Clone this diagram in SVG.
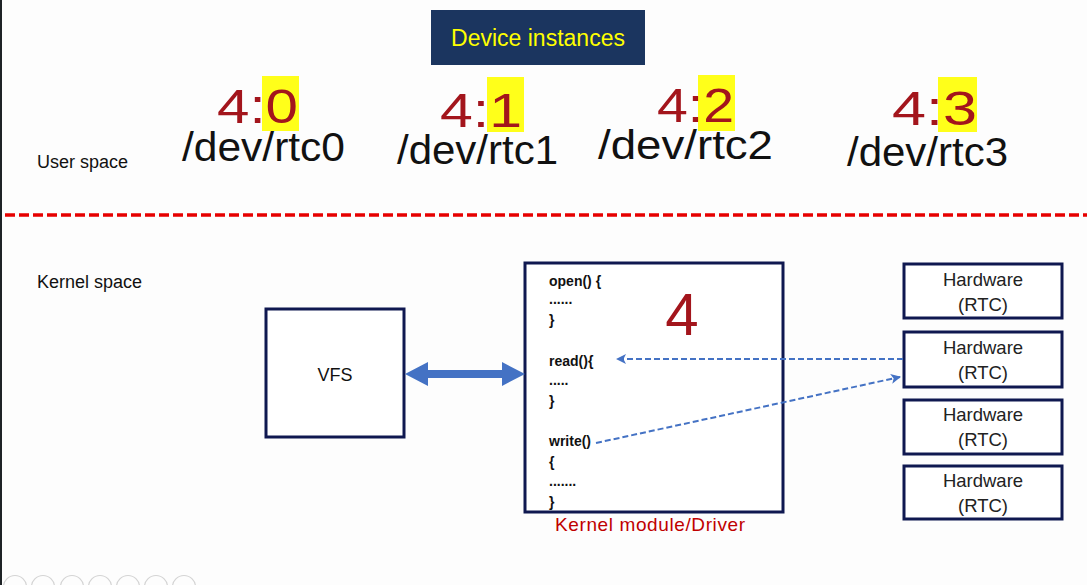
<svg xmlns="http://www.w3.org/2000/svg" width="1087" height="585" viewBox="0 0 1087 585">
  <defs>
    <style>
      .sans { font-family: "Liberation Sans", Arial, sans-serif; }
      .label { font-family: "Liberation Sans", Arial, sans-serif; font-size: 18px; fill: #111; }
      .major { font-family: "Liberation Sans", Arial, sans-serif; font-size: 48px; fill: #a3151c; }
      .path { font-family: "Liberation Sans", Arial, sans-serif; font-size: 41px; fill: #111; }
      .hl { fill: #ffff1a; }
      .box { fill: #ffffff; stroke: #0f1850; stroke-width: 3; }
      .code { font-family: "Liberation Sans", Arial, sans-serif; font-size: 14px; font-weight: bold; fill: #111; }
      .hw { font-family: "Liberation Sans", Arial, sans-serif; font-size: 18.5px; fill: #222; text-anchor: middle; }
      .link { fill: none; stroke: #4472c4; stroke-width: 2; stroke-dasharray: 6 3; }
      .tool { fill: none; stroke: #d4d4d4; stroke-width: 1.2; }
    </style>
    <marker id="tip" viewBox="0 0 10 10" refX="9" refY="5" markerWidth="5" markerHeight="5" orient="auto">
      <path d="M0,0 L10,5 L0,10 L2.5,5 Z" fill="#4472c4"/>
    </marker>
  </defs>

  <!-- page -->
  <rect x="0" y="0" width="1087" height="585" fill="#fdfdfd"/>
  <rect x="0" y="0" width="2" height="585" fill="#1e2326"/>

  <!-- title badge -->
  <g id="title">
    <rect x="431" y="10" width="214" height="55" fill="#1b355f"/>
    <text x="538" y="46" class="sans" font-size="23" fill="#ffff00" text-anchor="middle">Device instances</text>
  </g>

  <!-- user space device nodes: major:minor above each device path -->
  <g id="rtc0">
    <rect class="hl" x="262" y="76" width="37" height="55"/>
    <text class="major" x="217" y="123" textLength="81" lengthAdjust="spacingAndGlyphs">4:0</text>
    <text class="path" x="182" y="161" textLength="163" lengthAdjust="spacingAndGlyphs">/dev/rtc0</text>
  </g>
  <g id="rtc1">
    <rect class="hl" x="487" y="77" width="37" height="55"/>
    <text class="major" x="440" y="127" textLength="82" lengthAdjust="spacingAndGlyphs">4:1</text>
    <text class="path" x="397" y="164" textLength="161" lengthAdjust="spacingAndGlyphs">/dev/rtc1</text>
  </g>
  <g id="rtc2">
    <rect class="hl" x="698" y="75" width="37" height="56"/>
    <text class="major" x="657" y="122" textLength="77" lengthAdjust="spacingAndGlyphs">4:2</text>
    <text class="path" x="598" y="159" textLength="175" lengthAdjust="spacingAndGlyphs">/dev/rtc2</text>
  </g>
  <g id="rtc3">
    <rect class="hl" x="938" y="77" width="39" height="55"/>
    <text class="major" x="892" y="125" textLength="85" lengthAdjust="spacingAndGlyphs">4:3</text>
    <text class="path" x="847" y="166" textLength="161" lengthAdjust="spacingAndGlyphs">/dev/rtc3</text>
  </g>

  <!-- space labels and boundary -->
  <text class="label" x="37" y="168">User space</text>
  <line x1="5" y1="215" x2="1087" y2="215" stroke="#e60000" stroke-width="3.5" stroke-dasharray="10 4"/>
  <text class="label" x="37" y="288">Kernel space</text>

  <!-- VFS -->
  <g id="vfs">
    <rect class="box" x="266" y="309" width="138" height="128"/>
    <text class="label" x="335" y="381" text-anchor="middle">VFS</text>
  </g>

  <!-- driver module -->
  <g id="driver">
    <rect class="box" x="525" y="263" width="258" height="249"/>
    <text class="code" x="549" y="286">open() {</text>
    <text class="code" x="549" y="304">......</text>
    <text class="code" x="549" y="325">}</text>
    <text class="code" x="549" y="366">read(){</text>
    <text class="code" x="549" y="385">.....</text>
    <text class="code" x="549" y="406">}</text>
    <text class="code" x="549" y="446">write()</text>
    <text class="code" x="549" y="467">{</text>
    <text class="code" x="549" y="486">.......</text>
    <text class="code" x="549" y="507">}</text>
    <text class="sans" x="682" y="335" font-size="60" fill="#a3151c" text-anchor="middle">4</text>
    <text class="sans" x="555" y="531" font-size="19" fill="#c00000" textLength="190" lengthAdjust="spacing">Kernel module/Driver</text>
  </g>

  <!-- hardware nodes -->
  <g id="hw1">
    <rect class="box" x="904" y="264" width="158" height="54"/>
    <text class="hw" x="983" y="286">Hardware</text>
    <text class="hw" x="983" y="311">(RTC)</text>
  </g>
  <g id="hw2">
    <rect class="box" x="904" y="332" width="158" height="55"/>
    <text class="hw" x="983" y="354">Hardware</text>
    <text class="hw" x="983" y="379">(RTC)</text>
  </g>
  <g id="hw3">
    <rect class="box" x="904" y="400" width="158" height="54"/>
    <text class="hw" x="983" y="421">Hardware</text>
    <text class="hw" x="983" y="446">(RTC)</text>
  </g>
  <g id="hw4">
    <rect class="box" x="904" y="466" width="158" height="53"/>
    <text class="hw" x="983" y="487">Hardware</text>
    <text class="hw" x="983" y="512">(RTC)</text>
  </g>

  <!-- connectors -->
  <g id="connectors">
    <path d="M405,374 L428,362 L428,370 L502,370 L502,362 L525,374 L502,386 L502,378 L428,378 L428,386 Z" fill="#4472c4"/>
    <line class="link" x1="903" y1="359" x2="617" y2="359" marker-end="url(#tip)"/>
    <line class="link" x1="596" y1="443" x2="900" y2="377" marker-end="url(#tip)"/>
  </g>

  <!-- presenter toolbar -->
  <g id="toolbar">
    <circle class="tool" cx="15" cy="587" r="11.5"/>
    <circle class="tool" cx="43" cy="587" r="11.5"/>
    <circle class="tool" cx="72" cy="587" r="11.5"/>
    <circle class="tool" cx="100" cy="587" r="11.5"/>
    <circle class="tool" cx="128" cy="587" r="11.5"/>
    <circle class="tool" cx="156" cy="587" r="11.5"/>
    <circle class="tool" cx="184" cy="587" r="11.5"/>
  </g>
</svg>
